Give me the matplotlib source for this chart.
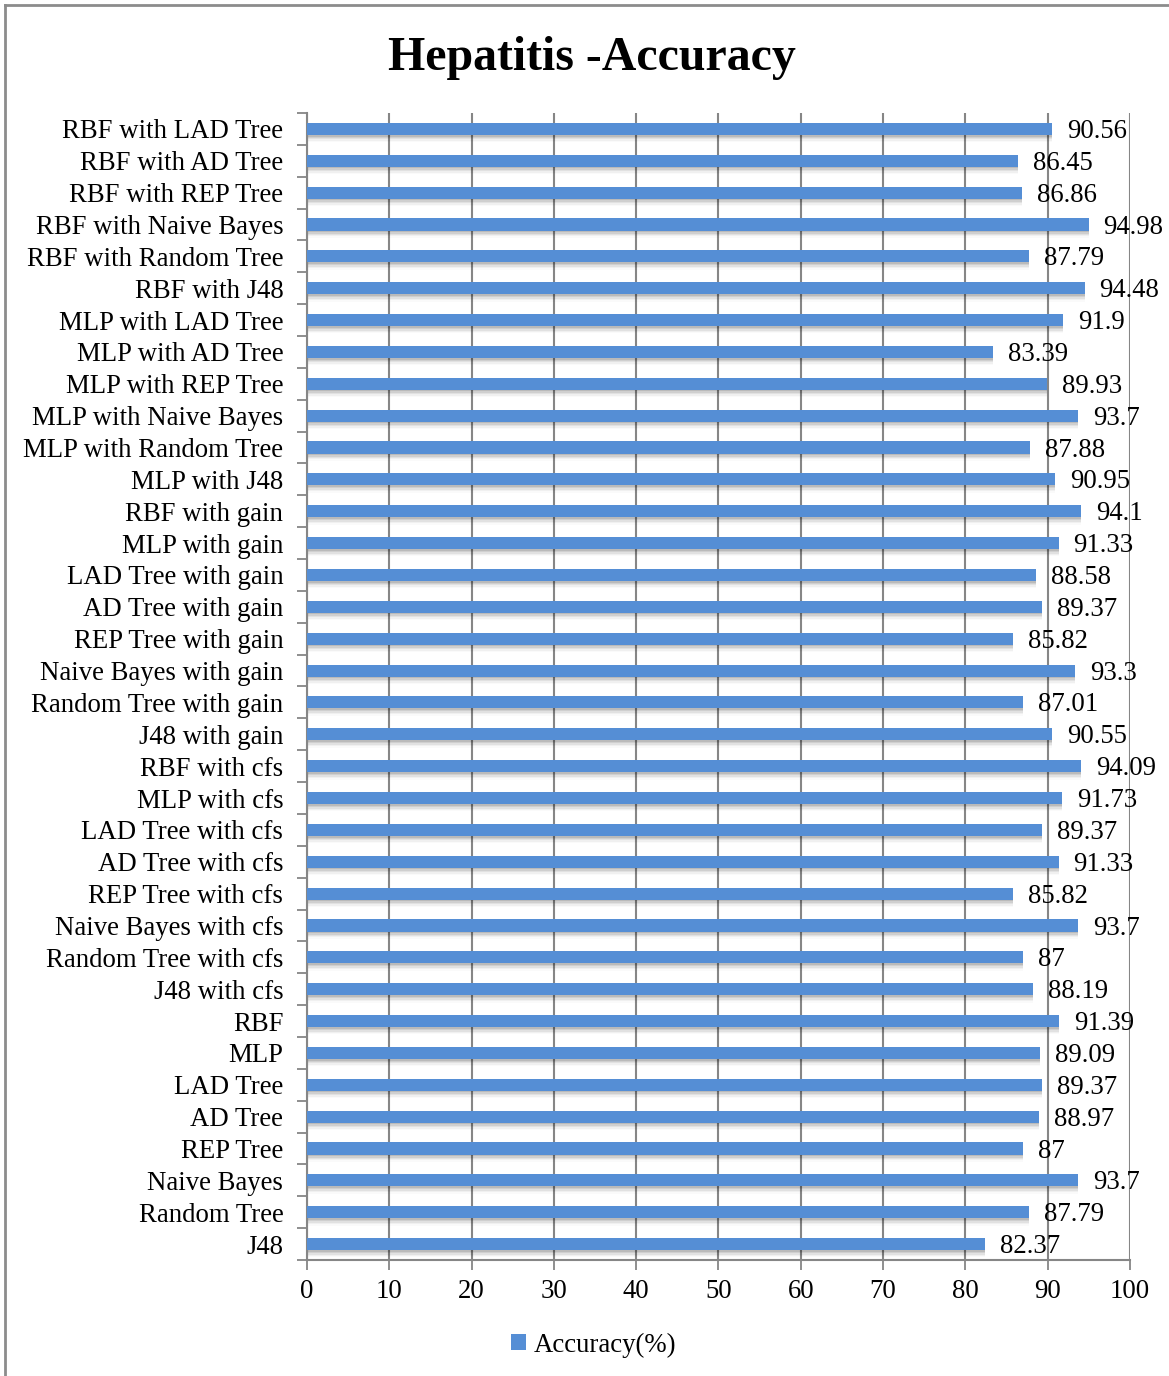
import matplotlib
matplotlib.use("Agg")
import matplotlib.pyplot as plt
import numpy as np

# classifier / feature-selection combinations, top row first
labels = [
    "RBF with LAD Tree", "RBF with AD Tree", "RBF with REP Tree",
    "RBF with Naive Bayes", "RBF with Random Tree", "RBF with J48",
    "MLP with LAD Tree", "MLP with AD Tree", "MLP with REP Tree",
    "MLP with Naive Bayes", "MLP with Random Tree", "MLP with J48",
    "RBF with gain", "MLP with gain", "LAD Tree with gain",
    "AD Tree with gain", "REP Tree with gain", "Naive Bayes with gain",
    "Random Tree with gain", "J48 with gain", "RBF with cfs",
    "MLP with cfs", "LAD Tree with cfs", "AD Tree with cfs",
    "REP Tree with cfs", "Naive Bayes with cfs", "Random Tree with cfs",
    "J48 with cfs", "RBF", "MLP", "LAD Tree", "AD Tree", "REP Tree",
    "Naive Bayes", "Random Tree", "J48",
]
accuracy = [
    90.56, 86.45, 86.86, 94.98, 87.79, 94.48,
    91.9, 83.39, 89.93, 93.7, 87.88, 90.95,
    94.1, 91.33, 88.58, 89.37, 85.82, 93.3,
    87.01, 90.55, 94.09, 91.73, 89.37, 91.33,
    85.82, 93.7, 87, 88.19, 91.39, 89.09,
    89.37, 88.97, 87, 93.7, 87.79, 82.37,
]
value_text = [
    "90.56", "86.45", "86.86", "94.98", "87.79", "94.48",
    "91.9", "83.39", "89.93", "93.7", "87.88", "90.95",
    "94.1", "91.33", "88.58", "89.37", "85.82", "93.3",
    "87.01", "90.55", "94.09", "91.73", "89.37", "91.33",
    "85.82", "93.7", "87", "88.19", "91.39", "89.09",
    "89.37", "88.97", "87", "93.7", "87.79", "82.37",
]
xticks = [0, 10, 20, 30, 40, 50, 60, 70, 80, 90, 100]

BAR = "#558ED5"
GRID = "#868686"
FS = 19.3
plt.rcParams["font.family"] = ["Liberation Serif", "DejaVu Serif"]

fig = plt.figure(figsize=(11.69, 13.76), dpi=100)
ax = fig.add_axes([0.2626, 0.0843, 0.704, 0.8336])

y = np.arange(len(labels))
h = 0.38
# soft drop shadow under each bar
for k, a in enumerate([0.10, 0.08, 0.06, 0.04, 0.02]):
    off = 0.05 + 0.045 * k
    ax.barh(y + off, accuracy, height=h, color="black", alpha=a,
            linewidth=0, zorder=2)
ax.barh(y, accuracy, height=h, color=BAR, linewidth=0, zorder=3,
        label="Accuracy(%)")

for yi, v, t in zip(y, accuracy, value_text):
    ax.text(v + 1.8, yi + 0.08, t, va="center", ha="left", fontsize=FS,
            zorder=4)

ax.set_xlim(0, 100)
ax.set_ylim(len(labels) - 0.5, -0.5)
ax.set_xticks(xticks)
ax.set_xticklabels([str(t) for t in xticks], fontsize=FS)
ax.set_yticks(y)
ax.set_yticklabels(labels, fontsize=FS)
ax.set_yticks(np.arange(len(labels) + 1) - 0.5, minor=True)
ax.tick_params(axis="y", which="major", length=0, pad=17)
ax.tick_params(axis="y", which="minor", length=7, width=1.3, color=GRID)
ax.tick_params(axis="x", length=7, width=1.3, color=GRID, pad=7)

ax.grid(axis="x", color=GRID, linewidth=1.5, zorder=1)
ax.set_axisbelow(True)
for s in ["top", "right"]:
    ax.spines[s].set_visible(False)
for s in ["left", "bottom"]:
    ax.spines[s].set_color(GRID)
    ax.spines[s].set_linewidth(1.5)

fig.text(0.506, 0.9575, "Hepatitis -Accuracy", ha="center", va="center",
         fontsize=34.5, fontweight="bold")

fig.legend(loc="center", bbox_to_anchor=(0.508, 0.0225), frameon=False,
           fontsize=FS, handlelength=0.55, handleheight=0.55,
           handletextpad=0.3)

# outer chart border
fig.add_artist(plt.Line2D([0.0045, 0.0045], [0, 0.9965], color="#8c8c8c",
                          linewidth=2, transform=fig.transFigure))
fig.add_artist(plt.Line2D([0.0045, 1], [0.9965, 0.9965], color="#8c8c8c",
                          linewidth=2, transform=fig.transFigure))

fig.savefig("out.png", dpi=100, facecolor="white")
